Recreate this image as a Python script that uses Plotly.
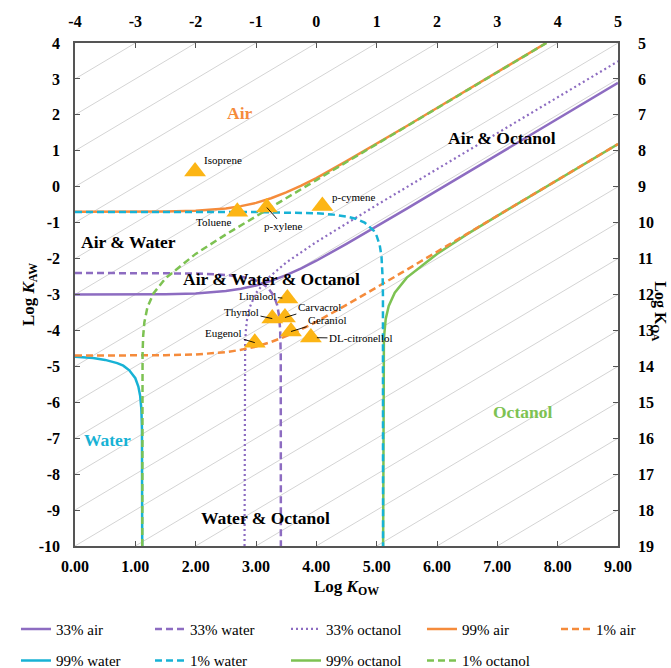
import plotly.graph_objects as go

FONT = "Liberation Serif"
PURPLE = "#8D6CC1"
ORANGE = "#F58B3B"
CYAN = "#17B2D5"
GREEN = "#7DC252"
AXC = "#555555"
GRIDC = "#D4D4D4"
TRI = "#FCB515"

# ---------------- data ----------------
kow_ticks = [0, 1, 2, 3, 4, 5, 6, 7, 8, 9]
kaw_ticks = [-10, -9, -8, -7, -6, -5, -4, -3, -2, -1, 0, 1, 2, 3, 4]
koa_top_ticks = [-4, -3, -2, -1, 0, 1, 2, 3, 4, 5]
koa_right_ticks = [5, 6, 7, 8, 9, 10, 11, 12, 13, 14, 15, 16, 17, 18, 19]
koa_lines = list(range(-4, 20))  # constant log KOA iso-lines

# partitioning curves (log KOW, log KAW)
air33_x = [0, 1, 1.5, 2, 2.5, 2.75, 3, 3.25, 3.5, 3.75, 4, 4.5, 5, 5.5, 6, 7, 8, 9]
air33_y = [-3.0, -3.0, -2.99, -2.97, -2.905, -2.84, -2.75, -2.62, -2.46, -2.27, -2.06, -1.59, -1.105, -0.61, -0.11, 0.89, 1.89, 2.89]

water33_x = [0, 1, 2, 2.5, 2.8, 3.0, 3.1, 3.2, 3.3, 3.35, 3.38, 3.40, 3.41, 3.412]
water33_y = [-2.40, -2.40, -2.415, -2.455, -2.52, -2.61, -2.69, -2.815, -3.05, -3.29, -3.57, -3.96, -4.70, -10]

oct33_x = [2.81, 2.811, 2.82, 2.83, 2.85, 2.9, 3.0, 3.2, 3.5, 4.0, 4.5, 5, 6, 7, 8, 9]
oct33_y = [-10, -5.34, -4.33, -4.03, -3.715, -3.34, -2.96, -2.54, -2.11, -1.54, -1.02, -0.51, 0.49, 1.49, 2.49, 3.49]

air99_x = [0, 1, 1.5, 2, 2.5, 2.75, 3, 3.25, 3.5, 3.75, 4, 4.5, 5, 5.5, 6, 7, 7.81]
air99_y = [-0.70, -0.70, -0.69, -0.67, -0.605, -0.54, -0.45, -0.32, -0.16, 0.03, 0.24, 0.71, 1.195, 1.69, 2.19, 3.19, 4.0]

air1_x = [0, 1, 1.5, 2, 2.5, 2.75, 3, 3.25, 3.5, 3.75, 4, 4.5, 5, 5.5, 6, 7, 8, 9]
air1_y = [-4.70, -4.70, -4.69, -4.67, -4.605, -4.54, -4.45, -4.32, -4.16, -3.97, -3.76, -3.29, -2.805, -2.31, -1.81, -0.81, 0.19, 1.19]

water99_x = [0, 0.3, 0.5, 0.7, 0.8, 0.9, 1.0, 1.05, 1.08, 1.10, 1.11, 1.114]
water99_y = [-4.73, -4.77, -4.82, -4.91, -4.98, -5.11, -5.33, -5.56, -5.82, -6.19, -6.73, -10]

water1_x = [0, 3, 4, 4.25, 4.5, 4.65, 4.8, 4.9, 4.95, 5.0, 5.05, 5.08, 5.09, 5.10, 5.104, 5.106]
water1_y = [-0.705, -0.706, -0.74, -0.77, -0.83, -0.89, -1.0, -1.13, -1.22, -1.37, -1.62, -1.94, -2.14, -2.57, -3.04, -10]

oct99_x = [5.107, 5.108, 5.11, 5.12, 5.15, 5.2, 5.3, 5.5, 6, 6.5, 7, 8, 9]
oct99_y = [-10, -5.34, -4.86, -4.22, -3.68, -3.32, -2.95, -2.53, -1.87, -1.32, -0.81, 0.19, 1.19]

oct1_x = [1.115, 1.116, 1.12, 1.13, 1.15, 1.2, 1.3, 1.5, 2, 2.5, 3, 4, 5, 6, 7, 7.814]
oct1_y = [-10, -5.34, -4.63, -4.15, -3.77, -3.36, -2.97, -2.55, -1.87, -1.33, -0.82, 0.185, 1.185, 2.185, 3.185, 4.0]

# compounds
compounds = ["Isoprene", "Toluene", "p-xylene", "p-cymene", "Linalool",
             "Thymol", "Carvacrol", "Geraniol", "DL-citronellol", "Eugenol"]
comp_log_kow = [1.99, 2.69, 3.18, 4.10, 3.52, 3.27, 3.48, 3.58, 3.91, 2.98]
comp_log_kaw = [0.42, -0.70, -0.58, -0.54, -3.11, -3.67, -3.64, -4.03, -4.20, -4.34]
label_x = [2.46, 2.30, 3.456, 4.62, 3.03, 2.76, 4.05, 4.18, 4.74, 2.465]
label_y = [0.735, -0.99, -1.10, -0.295, -3.04, -3.49, -3.35, -3.72, -4.22, -4.08]
label_leader = [False, False, True, False, True, True, True, True, True, True]
leader_standoff = [0, 0, 0, 0, 5, 0, 0, 0, 6, 0]

# region labels
regions = ["Air", "Air & Octanol", "Air & Water", "Air & Water & Octanol",
           "Water", "Water & Octanol", "Octanol"]
region_x = [2.735, 7.08, 0.887, 3.25, 0.54, 3.15, 7.41]
region_y = [2.04, 1.35, -1.55, -2.57, -7.06, -9.23, -6.28]
region_color = [ORANGE, "black", "black", "black", CYAN, "black", GREEN]

# ---------------- figure ----------------
fig = go.Figure()

# iso-KOA diagonal lines: log KAW = log KOW - log KOA
gx, gy = [], []
for c in koa_lines:
    gx += [kow_ticks[0], kow_ticks[-1], None]
    gy += [kow_ticks[0] - c, kow_ticks[-1] - c, None]
fig.add_trace(go.Scatter(x=gx, y=gy, mode="lines", line=dict(color=GRIDC, width=1),
                         showlegend=False, hoverinfo="skip"))

DASH = "7px,4px"
DOT = "2px,3px"
curves = [
    ("33% air", air33_x, air33_y, PURPLE, "solid", 2.5, "legend", 1),
    ("33% water", water33_x, water33_y, PURPLE, DASH, 2.5, "legend2", 1),
    ("33% octanol", oct33_x, oct33_y, PURPLE, DOT, 2.2, "legend3", 1),
    ("99% air", air99_x, air99_y, ORANGE, "solid", 2.5, "legend4", 1),
    ("99% water", water99_x, water99_y, CYAN, "solid", 2.5, "legend", 2),
    ("99% octanol", oct99_x, oct99_y, GREEN, "solid", 2.5, "legend3", 2),
    ("1% air", air1_x, air1_y, ORANGE, DASH, 2.5, "legend5", 1),
    ("1% water", water1_x, water1_y, CYAN, DASH, 2.5, "legend2", 2),
    ("1% octanol", oct1_x, oct1_y, GREEN, DASH, 2.5, "legend4", 2),
]
for name, xs, ys, col, dash, w, leg, rank in curves:
    fig.add_trace(go.Scatter(x=xs, y=ys, mode="lines", name=name,
                             line=dict(color=col, dash=dash, width=w),
                             legend=leg, legendgroup=name, legendrank=rank))

fig.add_trace(go.Scatter(x=comp_log_kow, y=comp_log_kaw, mode="markers",
                         marker=dict(symbol="triangle-up", size=19, color=TRI,
                                     line=dict(width=0)),
                         text=compounds, showlegend=False))

# invisible trace so the log KOA (top / right) axes are drawn
fig.add_trace(go.Scatter(x=[koa_top_ticks[0], koa_top_ticks[-1]],
                         y=[koa_right_ticks[-1], koa_right_ticks[0]],
                         xaxis="x2", yaxis="y2", mode="markers",
                         marker=dict(opacity=0), showlegend=False, hoverinfo="skip"))

annotations = []
for i, name in enumerate(compounds):
    if label_leader[i]:
        annotations.append(dict(
            x=comp_log_kow[i], y=comp_log_kaw[i], xref="x", yref="y",
            ax=label_x[i], ay=label_y[i], axref="x", ayref="y",
            text=name, showarrow=True, arrowhead=0, arrowwidth=0.9,
            arrowcolor="black", standoff=leader_standoff[i],
            font=dict(family=FONT, size=11, color="black")))
    else:
        annotations.append(dict(
            x=label_x[i], y=label_y[i], xref="x", yref="y", text=name,
            showarrow=False, font=dict(family=FONT, size=11, color="black")))

for t, x, y, c in zip(regions, region_x, region_y, region_color):
    annotations.append(dict(x=x, y=y, xref="x", yref="y", text="<b>%s</b>" % t,
                            showarrow=False,
                            font=dict(family=FONT, size=17.5, color=c)))

annotations.append(dict(x=1.076, y=0.466, xref="paper", yref="paper",
                        xanchor="center", yanchor="middle",
                        text="<b>Log K<sub>OA</sub></b>", textangle=90,
                        showarrow=False,
                        font=dict(family=FONT, size=16, color="black")))

axis_common = dict(showline=True, linecolor=AXC, linewidth=1.5, ticks="inside",
                   ticklen=5, tickwidth=1.2, tickcolor=AXC, showgrid=False,
                   zeroline=False, automargin=False,
                   tickfont=dict(family=FONT, size=16, color="black", weight="bold"))

leg_common = dict(orientation="v", yanchor="top", y=-0.1326, xanchor="left",
                  bgcolor="rgba(0,0,0,0)", borderwidth=0,
                  font=dict(family=FONT, size=15, color="black"),
                  traceorder="grouped", tracegroupgap=9, itemwidth=30)
leg_x = [-0.1087, 0.1381, 0.3886, 0.6390, 0.8858]

fig.update_layout(
    width=671, height=668,
    margin=dict(l=75, r=53, t=43, b=122, autoexpand=False),
    paper_bgcolor="white", plot_bgcolor="white",
    font=dict(family=FONT, color="black"),
    showlegend=True,
    xaxis=dict(range=[0, 9], tickvals=kow_ticks,
               ticktext=["%.2f" % v for v in kow_ticks],
               ticklabelstandoff=5,
               title=dict(text="<b>Log <i>K</i><sub>OW</sub></b>",
                          font=dict(family=FONT, size=17, color="black"), standoff=6),
               **axis_common),
    yaxis=dict(range=[-10, 4], tickvals=kaw_ticks,
               ticktext=[str(v) for v in kaw_ticks], ticklabelstandoff=10,
               title=dict(text="<b>Log <i>K</i><sub>AW</sub></b>",
                          font=dict(family=FONT, size=17, color="black"), standoff=0),
               **axis_common),
    xaxis2=dict(range=[-4, 5], tickvals=koa_top_ticks,
                ticktext=[str(v) for v in koa_top_ticks],
                overlaying="x", side="top", ticklabelstandoff=8, **axis_common),
    yaxis2=dict(range=[19, 5], tickvals=koa_right_ticks,
                ticktext=[str(v) for v in koa_right_ticks],
                overlaying="y", side="right", ticklabelstandoff=15, **axis_common),
    annotations=annotations,
    legend=dict(x=leg_x[0], **leg_common),
    legend2=dict(x=leg_x[1], **leg_common),
    legend3=dict(x=leg_x[2], **leg_common),
    legend4=dict(x=leg_x[3], **leg_common),
    legend5=dict(x=leg_x[4], **leg_common),
)

fig.write_html("out.html", config={"displayModeBar": False},
               post_script="document.body.style.margin='0px';")
